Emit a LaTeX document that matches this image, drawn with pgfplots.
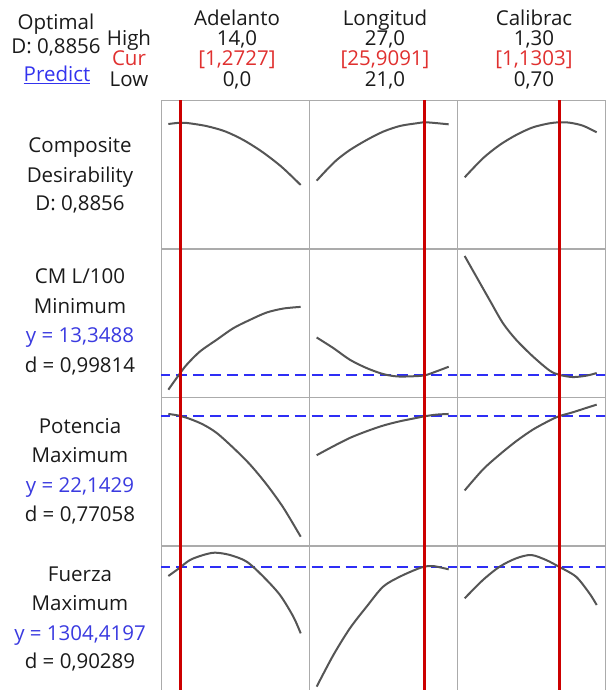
\documentclass[border=0pt]{standalone}
\usepackage{fontspec}
\setmainfont{Open Sans}
\usepackage{pgfplots}
\pgfplotsset{compat=1.18}
\definecolor{curvec}{HTML}{555555}
\definecolor{redl}{HTML}{CC0000}
\definecolor{bluel}{HTML}{2E2EF5}
\definecolor{framec}{HTML}{ABABAB}
\definecolor{redtxt}{HTML}{E0302F}
\definecolor{bluetxt}{HTML}{3A3AE0}
\definecolor{linkc}{HTML}{3333EE}
\definecolor{txt}{HTML}{1A1A1A}
\pgfplotsset{
  panel/.style={width=148pt,height=148pt,scale only axis,xtick=\empty,ytick=\empty,
    axis line style={framec,line width=1pt},anchor=north west,clip=true},
  c1/.style={xmin=-0.776,xmax=14.88},
  c2/.style={xmin=20.652,xmax=27.378},
  c3/.style={xmin=0.6652,xmax=1.3378},
  r1/.style={ymin=0,ymax=444},
  r2/.style={ymin=0,ymax=445},
  r3/.style={ymin=0,ymax=445},
  r4/.style={ymin=-12,ymax=432},
  cv/.style={curvec,line width=2pt,smooth},
  rl/.style={redl,line width=3pt},
  bl/.style={bluel,line width=1.8pt,dash pattern=on 11pt off 6pt},
}
\tikzset{t/.style={font=\fontsize{20.5}{24}\selectfont,inner sep=0pt,anchor=base,text=txt}}
\begin{document}
\begin{tikzpicture}[x=1pt,y=1pt]
\useasboundingbox (0,0) rectangle (605,-690);
% ---------- header ----------
\node[t] at (56,-29.5) {Optimal};
\node[t] at (56,-54) {D: 0,8856};
\node[t,text=linkc] at (57,-81.5) {\underline{Predict}};
\node[t] at (129,-46) {High};
\node[t,text=redtxt] at (129,-66) {Cur};
\node[t] at (129,-86.5) {Low};
\node[t] at (237,-26) {Adelanto};
\node[t] at (237,-46) {14,0};
\node[t,text=redtxt] at (237,-66) {[1,2727]};
\node[t] at (237,-86.5) {0,0};
\node[t] at (385,-26) {Longitud};
\node[t] at (385,-46) {27,0};
\node[t,text=redtxt] at (385,-66) {[25,9091]};
\node[t] at (385,-86.5) {21,0};
\node[t] at (534,-26) {Calibrac};
\node[t] at (534,-46) {1,30};
\node[t,text=redtxt] at (534,-66) {[1,1303]};
\node[t] at (534,-86.5) {0,70};
% ---------- row labels ----------
\node[t] at (80,-152.5) {Composite};
\node[t] at (80,-182) {Desirability};
\node[t] at (80,-210.5) {D: 0,8856};
\node[t] at (80,-283) {CM L/100};
\node[t] at (80,-313) {Minimum};
\node[t,text=bluetxt] at (80,-342.5) {y = 13,3488};
\node[t] at (80,-372) {d = 0,99814};
\node[t] at (80,-433) {Potencia};
\node[t] at (80,-462) {Maximum};
\node[t,text=bluetxt] at (80,-492) {y = 22,1429};
\node[t] at (80,-521) {d = 0,77058};
\node[t] at (80,-581) {Fuerza};
\node[t] at (80,-610) {Maximum};
\node[t,text=bluetxt] at (80,-640.5) {y = 1304,4197};
\node[t] at (80,-668.5) {d = 0,90289};
% ---------- row 1 ----------
\begin{axis}[panel,c1,r1,at={(161pt,-101pt)}]
\addplot[cv] coordinates {(0,375)(1.27,379)(2,378)(4,369)(6,353)(8,326)(10,290)(12,246)(14,192)};
\addplot[rl] coordinates {(1.2727,-50)(1.2727,500)};
\end{axis}
\begin{axis}[panel,c2,r1,at={(309pt,-101pt)}]
\addplot[cv] coordinates {(21,205)(21.45,237)(21.91,267)(22.51,297)(23.27,327)(24.02,352)(24.78,369)(25.53,377)(25.99,380)(27,374)};
\addplot[rl] coordinates {(25.9091,-50)(25.9091,500)};
\end{axis}
\begin{axis}[panel,c3,r1,at={(457pt,-101pt)}]
\addplot[cv] coordinates {(0.7,215)(0.783,272)(0.859,312)(0.934,342)(1.010,365)(1.085,377)(1.128,380)(1.176,379)(1.237,370)(1.30,350)};
\addplot[rl] coordinates {(1.1303,-50)(1.1303,500)};
\end{axis}
% ---------- row 2 ----------
\begin{axis}[panel,c1,r2,at={(161pt,-249pt)}]
\addplot[bl] coordinates {(-1,66.5)(16,66.5)};
\addplot[cv] coordinates {(0,22)(1.13,67)(1.94,97)(3.35,137)(5.11,172)(6.88,207)(8.64,232)(10.40,254)(12.17,266)(14,271)};
\addplot[rl] coordinates {(1.2727,-50)(1.2727,500)};
\end{axis}
\begin{axis}[panel,c2,r2,at={(309pt,-249pt)}]
\addplot[bl] coordinates {(20,66.5)(28,66.5)};
\addplot[cv] coordinates {(21,179)(21.76,147)(22.51,112)(23.27,87)(24.02,69)(24.63,62)(25.23,62)(25.90,65)(26.44,77)(27,91)};
\addplot[rl] coordinates {(25.9091,-50)(25.9091,500)};
\end{axis}
\begin{axis}[panel,c3,r2,at={(457pt,-249pt)}]
\addplot[bl] coordinates {(0.6,66.5)(1.4,66.5)};
\addplot[cv] coordinates {(0.7,424)(0.753,362)(0.813,292)(0.874,222)(0.934,172)(1.010,122)(1.085,80)(1.128,67)(1.191,60)(1.252,64)(1.30,72)};
\addplot[rl] coordinates {(1.1303,-50)(1.1303,500)};
\end{axis}
% ---------- row 3 ----------
\begin{axis}[panel,c1,r3,at={(161pt,-397pt)}]
\addplot[bl] coordinates {(-1,387)(16,387)};
\addplot[cv] coordinates {(0,394)(1.13,389)(2.29,379)(3.70,362)(5.11,337)(6.88,292)(8.64,242)(10.40,182)(12.17,112)(14,25)};
\addplot[rl] coordinates {(1.2727,-50)(1.2727,500)};
\end{axis}
\begin{axis}[panel,c2,r3,at={(309pt,-397pt)}]
\addplot[bl] coordinates {(20,387)(28,387)};
\addplot[cv] coordinates {(21,270)(21.76,297)(22.51,322)(23.27,342)(24.02,359)(24.78,372)(25.53,382)(25.90,387)(26.44,392)(27,394)};
\addplot[rl] coordinates {(25.9091,-50)(25.9091,500)};
\end{axis}
\begin{axis}[panel,c3,r3,at={(457pt,-397pt)}]
\addplot[bl] coordinates {(0.6,387)(1.4,387)};
\addplot[cv] coordinates {(0.7,164)(0.783,227)(0.859,272)(0.934,312)(1.010,347)(1.085,374)(1.128,387)(1.191,399)(1.252,412)(1.30,422)};
\addplot[rl] coordinates {(1.1303,-50)(1.1303,500)};
\end{axis}
% ---------- row 4 ----------
\begin{axis}[panel,c1,r4,at={(161pt,-546pt)}]
\addplot[bl] coordinates {(-1,370)(16,370)};
\addplot[cv] coordinates {(0,342)(1.13,365)(2.29,390)(3.70,405)(4.94,412)(6.52,405)(8.29,385)(10.05,340)(11.81,285)(13.22,220)(14,170)};
\addplot[rl] coordinates {(1.2727,-50)(1.2727,500)};
\end{axis}
\begin{axis}[panel,c2,r4,at={(309pt,-546pt)}]
\addplot[bl] coordinates {(20,370)(28,370)};
\addplot[cv] coordinates {(21,10)(21.76,105)(22.51,185)(23.27,250)(24.02,310)(24.78,340)(25.53,362)(25.90,370)(26.29,372)(27,362)};
\addplot[rl] coordinates {(25.9091,-50)(25.9091,500)};
\end{axis}
\begin{axis}[panel,c3,r4,at={(457pt,-546pt)}]
\addplot[bl] coordinates {(0.6,370)(1.4,370)};
\addplot[cv] coordinates {(0.7,275)(0.783,330)(0.859,370)(0.934,395)(1.002,405)(1.070,390)(1.128,370)(1.206,340)(1.267,290)(1.30,255)};
\addplot[rl] coordinates {(1.1303,-50)(1.1303,500)};
\end{axis}
\end{tikzpicture}
\end{document}
